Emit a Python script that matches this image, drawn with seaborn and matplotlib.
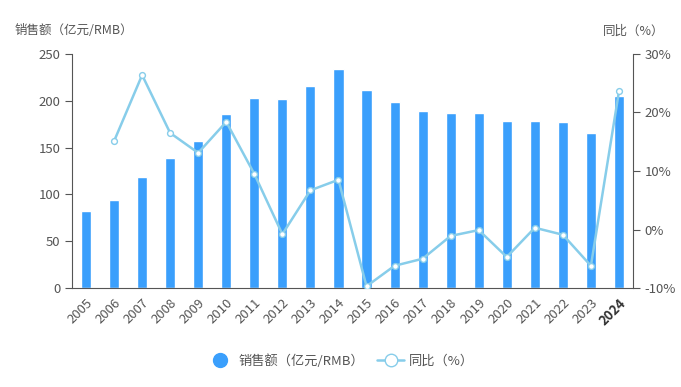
import numpy as np
import pandas as pd
import matplotlib
matplotlib.use("Agg")
import matplotlib.pyplot as plt
import seaborn as sns
from matplotlib.lines import Line2D
from matplotlib.ticker import FixedLocator, FuncFormatter

# data
years = [str(y) for y in range(2005, 2025)]
sales = [82, 94, 119, 139, 157, 186, 203, 202, 216, 234,
         211, 199, 189, 187, 187, 178, 178, 177, 166, 205]
yoy = [np.nan, 15.1, 26.4, 16.5, 13.1, 18.4, 9.5, -0.8, 6.7, 8.5,
       -9.7, -6.2, -5.0, -1.1, -0.1, -4.7, 0.3, -0.9, -6.2, 23.6]

df = pd.DataFrame({"year": years, "sales": sales, "yoy": yoy})
df["idx"] = range(len(df))

sns.set_style("white")
plt.rcParams["font.family"] = ["Noto Sans CJK SC", "DejaVu Sans"]

bar_color = "#3a9ffc"
line_color = "#87cdea"
text_color = "#555555"
axis_color = "#555555"

fig = plt.figure(figsize=(6.81, 3.87), dpi=100)
ax = fig.add_axes([0.1057, 0.2558, 0.8238, 0.6047])

sns.barplot(data=df, x="idx", y="sales", color=bar_color, width=0.36,
            saturation=1, ax=ax)
ax.set_xlim(-0.5, len(df) - 0.5)
ax.set_ylim(0, 250)
ax.set_yticks(range(0, 251, 50))
ax.set_xticks(range(len(df)))
ax.set_xticklabels(years, rotation=45, ha="right", rotation_mode="anchor")
ax.xaxis.set_minor_locator(FixedLocator(np.arange(-0.5, len(df), 1)))
ax.tick_params(axis="x", which="major", length=0, pad=6, labelsize=9.5,
               labelcolor=text_color)
ax.tick_params(axis="x", which="minor", length=5, color=axis_color, width=0.8)
ax.tick_params(axis="y", length=5, color=axis_color, width=0.8, labelsize=9.5,
               labelcolor=text_color, left=True)
for lbl in ax.get_xticklabels():
    if lbl.get_text() == "2024":
        lbl.set_fontweight("bold")
        lbl.set_color("#333333")
ax.set_xlabel("")
ax.set_ylabel("")
for s in ["top", "right"]:
    ax.spines[s].set_visible(False)
for s in ["left", "bottom"]:
    ax.spines[s].set_color(axis_color)
    ax.spines[s].set_linewidth(0.8)

ax2 = ax.twinx()
sns.lineplot(data=df, x="idx", y="yoy", color=line_color, linewidth=1.8,
             marker="o", markersize=4.2, markerfacecolor="white",
             markeredgecolor=line_color, markeredgewidth=1, ax=ax2)
ax2.set_ylim(-10, 30)
ax2.set_yticks(range(-10, 31, 10))
ax2.yaxis.set_major_formatter(FuncFormatter(lambda v, p: f"{int(v)}%"))
ax2.tick_params(axis="y", length=5, color=axis_color, width=0.8, labelsize=9.5,
                labelcolor=text_color, right=True)
ax2.set_ylabel("")
ax2.set_xlabel("")
for s in ["top", "left", "bottom"]:
    ax2.spines[s].set_visible(False)
ax2.spines["right"].set_color(axis_color)
ax2.spines["right"].set_linewidth(0.8)
ax2.set_xlim(-0.5, len(df) - 0.5)

fig.text(0.022, 0.92, "销售额（亿元/RMB）", fontsize=9, color=text_color,
         va="center", ha="left")
fig.text(0.976, 0.92, "同比（%）", fontsize=9, color=text_color,
         va="center", ha="right")

handles = [
    Line2D([], [], linestyle="none", marker="o", markersize=10,
           markerfacecolor=bar_color, markeredgecolor=bar_color),
    Line2D([], [], color=line_color, linewidth=1.8, marker="o", markersize=9,
           markerfacecolor="white", markeredgecolor=line_color),
]
fig.legend(handles, ["销售额（亿元/RMB）", "同比（%）"], loc="center",
           bbox_to_anchor=(0.5, 0.067), ncol=2, frameon=False, fontsize=9.5,
           labelcolor=text_color, handlelength=2.0, handletextpad=0.4,
           columnspacing=1.0)

fig.savefig("out.png", dpi=100)
